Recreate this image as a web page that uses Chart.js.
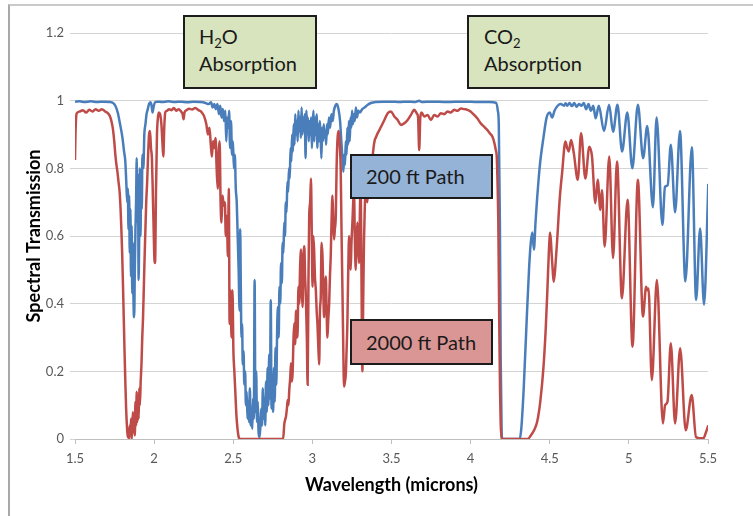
<!DOCTYPE html>
<html>
<head>
<meta charset="utf-8">
<script src="https://cdn.jsdelivr.net/npm/chart.js@4"></script>
<style>
  html, body { margin: 0; padding: 0; background: #fff; }
  #wrap { position: relative; width: 753px; height: 516px; overflow: hidden; }
  #frame { position: absolute; left: 8px; top: 4px; width: 800px; height: 600px;
           border-top: 2px solid #c9c9c9; border-left: 2px solid #a9a9a9; }
  canvas { position: absolute; left: 0; top: 0; }
  .note { position: absolute; box-sizing: border-box; border: 2px solid #1c1c1c;
          font-family: Lato, sans-serif; font-size: 20px; color: #1a1a1a; white-space: nowrap; }
  .note sub { font-size: 13px; vertical-align: -4px; line-height: 0; }
  #h2o { left: 183px; top: 15px; width: 134px; height: 74px; background: #d7e4bd;
         padding: 6px 0 0 14px; line-height: 27px; }
  #co2 { left: 467px; top: 15px; width: 143px; height: 74px; background: #d7e4bd;
         padding: 6px 0 0 15px; line-height: 27px; }
  #p200 { left: 350px; top: 154px; width: 143px; height: 45px; background: #95b3d7;
          padding-left: 14px; line-height: 41px; }
  #p2000 { left: 350px; top: 319px; width: 143px; height: 46px; background: #da9694;
           padding-left: 14px; line-height: 42px; }
</style>
</head>
<body>
<div id="wrap">
  <div id="frame"></div>
  <canvas id="myChart" width="753" height="516"></canvas>
  <div class="note" id="h2o">H<sub>2</sub>O<br>Absorption</div>
  <div class="note" id="co2">CO<sub>2</sub><br>Absorption</div>
  <div class="note" id="p200">200 ft Path</div>
  <div class="note" id="p2000">2000 ft Path</div>
</div>
<script>
// [wavelength (microns), transmission]
const path200ft = [
  [1.50,.997],[1.53,.998],[1.56,.996],[1.60,.998],[1.64,.996],[1.68,.997],[1.72,.996],[1.74,.993],
  [1.755,.985],[1.77,.965],[1.785,.93],[1.80,.89],[1.81,.85],[1.818,.82],[1.824,.76],[1.83,.70],
  [1.834,.74],[1.838,.62],[1.842,.72],[1.846,.55],[1.85,.68],[1.854,.48],[1.858,.63],[1.862,.43],
  [1.866,.58],[1.87,.40],[1.874,.36],[1.878,.50],[1.882,.62],[1.886,.70],[1.89,.83],[1.894,.64],
  [1.898,.78],[1.902,.47],[1.906,.62],[1.91,.80],[1.914,.60],[1.918,.78],[1.922,.68],[1.926,.84],
  [1.932,.80],[1.938,.90],[1.945,.93],[1.952,.96],[1.96,.975],[1.968,.99],[1.976,.995],[1.984,.985],
  [1.99,.965],[1.996,.98],[2.005,.995],[2.02,.997],[2.05,.996],[2.09,.998],[2.13,.996],[2.17,.997],
  [2.21,.995],[2.25,.997],[2.29,.996],[2.32,.994],[2.345,.99],[2.36,.995],[2.37,.98],[2.38,.99],
  [2.39,.975],[2.40,.99],[2.41,.96],[2.418,.985],[2.426,.95],[2.434,.975],[2.442,.94],[2.45,.97],
  [2.456,.88],[2.462,.95],[2.468,.92],[2.474,.97],[2.48,.86],[2.486,.94],[2.492,.84],[2.498,.88],
  [2.504,.80],[2.51,.84],[2.516,.74],[2.522,.70],[2.528,.60],[2.534,.50],[2.54,.38],[2.544,.62],
  [2.548,.44],[2.552,.30],[2.556,.34],[2.56,.22],[2.565,.26],[2.57,.16],[2.575,.20],[2.58,.10],
  [2.585,.14],[2.59,.06],[2.595,.11],[2.60,.05],[2.605,.15],[2.61,.04],[2.615,.09],[2.62,.03],
  [2.625,.12],[2.63,.06],[2.635,.47],[2.64,.08],[2.645,.20],[2.65,.05],[2.655,.11],[2.66,.02],
  [2.666,.005],[2.672,.04],[2.677,.09],[2.682,.04],[2.687,.15],[2.692,.06],[2.697,.12],[2.702,.04],
  [2.707,.17],[2.712,.08],[2.717,.21],[2.722,.10],[2.727,.25],[2.732,.12],[2.737,.41],[2.742,.09],
  [2.747,.19],[2.752,.08],[2.757,.21],[2.762,.11],[2.767,.27],[2.772,.16],[2.777,.31],[2.782,.39],
  [2.787,.30],[2.792,.45],[2.797,.40],[2.802,.52],[2.807,.46],[2.812,.58],[2.817,.55],[2.822,.64],
  [2.827,.60],[2.832,.70],[2.837,.67],[2.842,.76],[2.847,.73],[2.852,.80],[2.857,.77],[2.862,.86],
  [2.867,.82],[2.872,.90],[2.877,.85],[2.882,.93],[2.887,.87],[2.892,.96],[2.897,.90],[2.902,.94],
  [2.907,.88],[2.912,.97],[2.917,.91],[2.922,.95],[2.927,.89],[2.932,.98],[2.937,.90],[2.942,.95],
  [2.947,.91],[2.952,.96],[2.957,.83],[2.962,.97],[2.967,.92],[2.972,.95],[2.977,.88],[2.982,.94],
  [2.987,.90],[2.992,.95],[2.997,.86],[3.002,.93],[3.007,.97],[3.012,.88],[3.017,.95],[3.022,.90],
  [3.027,.96],[3.032,.86],[3.037,.93],[3.042,.88],[3.047,.94],[3.052,.90],[3.057,.83],[3.062,.92],
  [3.067,.88],[3.072,.93],[3.077,.89],[3.082,.91],[3.087,.87],[3.092,.93],[3.097,.90],[3.105,.95],
  [3.112,.92],[3.12,.96],[3.128,.94],[3.136,.97],[3.145,.985],[3.155,.99],[3.165,.975],[3.175,.94],
  [3.183,.88],[3.19,.83],[3.196,.79],[3.201,.84],[3.206,.81],[3.211,.88],[3.216,.84],[3.221,.92],
  [3.226,.87],[3.231,.94],[3.236,.88],[3.241,.95],[3.246,.92],[3.251,.97],[3.256,.93],[3.262,.96],
  [3.268,.94],[3.275,.98],[3.282,.95],[3.29,.97],[3.30,.965],[3.315,.975],[3.33,.98],[3.35,.988],
  [3.37,.993],[3.40,.996],[3.45,.997],[3.50,.997],[3.55,.996],[3.60,.997],[3.65,.996],[3.675,1.0],
  [3.69,.996],[3.75,.997],[3.85,.996],[3.95,.997],[4.05,.996],[4.12,.996],[4.16,.994],[4.172,.97],
  [4.178,.93],[4.185,.64],[4.19,.24],[4.196,.02],[4.20,0],[4.25,0],[4.31,0],[4.32,.03],
  [4.335,.145],[4.355,.36],[4.37,.51],[4.38,.58],[4.39,.61],[4.40,.56],[4.41,.64],[4.42,.71],
  [4.43,.77],[4.44,.82],[4.46,.89],[4.48,.95],[4.50,.965],[4.515,.95],[4.53,.97],[4.55,.985],
  [4.57,.99],[4.59,.985],[4.60,.992],[4.61,.985],[4.625,.993],[4.64,.984],[4.655,.993],[4.67,.982],
  [4.685,.99],[4.70,.985],[4.715,.993],[4.73,.975],[4.745,.99],[4.76,.97],[4.775,.985],[4.79,.948],
  [4.81,.985],[4.843,.91],[4.875,.988],[4.90,.908],[4.928,.988],[4.957,.85],[4.99,.965],[5.022,.80],
  [5.057,.988],[5.09,.83],[5.116,.925],[5.152,.685],[5.175,.95],[5.212,.633],[5.228,.745],[5.245,.75],
  [5.265,.87],[5.292,.67],[5.323,.91],[5.357,.466],[5.398,.862],[5.425,.411],[5.45,.622],[5.475,.397],
  [5.502,.754]
]

const path2000ft = [
  [1.50,.825],[1.503,.90],[1.507,.95],[1.512,.963],[1.53,.968],[1.55,.972],[1.57,.965],[1.59,.973],
  [1.61,.968],[1.63,.975],[1.65,.97],[1.67,.975],[1.69,.968],[1.71,.962],[1.72,.955],[1.73,.94],
  [1.74,.915],[1.748,.88],[1.755,.84],[1.762,.81],[1.768,.79],[1.775,.76],[1.782,.73],[1.788,.68],
  [1.793,.62],[1.798,.55],[1.803,.46],[1.808,.36],[1.813,.26],[1.818,.17],[1.823,.09],[1.828,.04],
  [1.833,.005],[1.838,.03],[1.842,0],[1.846,.04],[1.85,.01],[1.854,.06],[1.858,0],[1.862,.03],
  [1.866,.08],[1.87,.02],[1.874,.07],[1.878,.01],[1.882,.11],[1.886,.04],[1.89,.14],[1.894,.05],
  [1.898,.12],[1.902,.06],[1.906,.15],[1.91,.10],[1.915,.17],[1.92,.22],[1.925,.30],[1.93,.36],
  [1.935,.45],[1.94,.54],[1.945,.62],[1.95,.70],[1.956,.76],[1.962,.84],[1.968,.90],[1.974,.91],
  [1.98,.86],[1.986,.83],[1.992,.72],[1.997,.62],[2.002,.53],[2.006,.52],[2.012,.74],[2.018,.90],
  [2.024,.95],[2.03,.965],[2.038,.96],[2.046,.93],[2.052,.88],[2.058,.835],[2.064,.92],[2.07,.965],
  [2.08,.97],[2.095,.975],[2.11,.972],[2.125,.978],[2.14,.97],[2.155,.975],[2.17,.968],[2.18,.96],
  [2.186,.945],[2.192,.965],[2.205,.972],[2.22,.976],[2.24,.974],[2.26,.978],[2.28,.972],[2.30,.966],
  [2.315,.955],[2.33,.93],[2.34,.90],[2.35,.92],[2.358,.87],[2.365,.835],[2.372,.88],[2.38,.86],
  [2.388,.89],[2.395,.80],[2.402,.74],[2.408,.85],[2.414,.88],[2.42,.70],[2.426,.64],[2.432,.72],
  [2.44,.69],[2.447,.70],[2.453,.60],[2.46,.66],[2.466,.54],[2.472,.74],[2.477,.34],[2.483,.44],
  [2.489,.30],[2.495,.44],[2.501,.26],[2.507,.20],[2.513,.14],[2.52,.07],[2.527,.03],[2.535,.005],
  [2.545,0],[2.60,0],[2.70,0],[2.80,0],[2.815,0],[2.823,.046],[2.833,.066],[2.839,.09],
  [2.844,.115],[2.849,.10],[2.854,.145],[2.86,.18],[2.865,.224],[2.87,.17],[2.875,.194],[2.881,.30],
  [2.886,.342],[2.891,.28],[2.897,.38],[2.902,.30],[2.907,.32],[2.912,.45],[2.917,.40],[2.922,.50],
  [2.928,.56],[2.933,.44],[2.938,.39],[2.943,.52],[2.949,.57],[2.954,.48],[2.959,.42],[2.965,.30],
  [2.970,.16],[2.975,.45],[2.980,.66],[2.986,.70],[2.991,.77],[2.996,.62],[3.001,.45],[3.006,.60],
  [3.011,.56],[3.016,.48],[3.022,.44],[3.027,.38],[3.032,.34],[3.037,.28],[3.043,.22],[3.048,.38],
  [3.053,.42],[3.058,.58],[3.064,.54],[3.069,.44],[3.074,.36],[3.079,.45],[3.085,.48],[3.09,.38],
  [3.095,.30],[3.10,.35],[3.106,.40],[3.111,.48],[3.116,.54],[3.121,.64],[3.127,.72],[3.132,.65],
  [3.137,.59],[3.142,.62],[3.148,.66],[3.153,.80],[3.158,.88],[3.164,.91],[3.169,.90],[3.174,.86],
  [3.179,.80],[3.184,.62],[3.19,.44],[3.195,.28],[3.20,.155],[3.206,.17],[3.211,.19],[3.216,.26],
  [3.221,.34],[3.226,.48],[3.232,.60],[3.237,.55],[3.242,.50],[3.247,.58],[3.253,.64],[3.258,.70],
  [3.263,.74],[3.268,.60],[3.274,.50],[3.279,.58],[3.284,.64],[3.29,.58],[3.295,.52],[3.30,.66],
  [3.305,.78],[3.31,.50],[3.316,.20],[3.321,.40],[3.326,.58],[3.331,.68],[3.337,.74],[3.342,.72],
  [3.347,.70],[3.352,.74],[3.358,.76],[3.363,.79],[3.368,.80],[3.374,.82],[3.379,.83],[3.384,.85],
  [3.389,.87],[3.395,.885],[3.40,.89],[3.413,.904],[3.434,.923],[3.455,.943],[3.476,.963],[3.497,.968],
  [3.518,.953],[3.539,.943],[3.56,.928],[3.581,.933],[3.602,.943],[3.623,.958],[3.644,.973],[3.66,.962],
  [3.668,.95],[3.675,.854],[3.682,.95],[3.69,.965],[3.707,.953],[3.728,.958],[3.749,.943],[3.77,.958],
  [3.791,.953],[3.812,.963],[3.833,.96],[3.854,.968],[3.875,.965],[3.896,.973],[3.917,.97],[3.938,.977],
  [3.959,.975],[3.98,.973],[4.00,.968],[4.022,.958],[4.043,.947],[4.064,.933],[4.085,.923],[4.106,.913],
  [4.122,.903],[4.138,.893],[4.15,.875],[4.159,.854],[4.165,.835],[4.17,.76],[4.175,.64],[4.181,.34],
  [4.186,.14],[4.19,.046],[4.196,0],[4.25,0],[4.30,0],[4.36,0],[4.38,.01],[4.40,.025],
  [4.42,.05],[4.44,.11],[4.46,.21],[4.475,.33],[4.485,.44],[4.495,.56],[4.503,.61],[4.513,.54],
  [4.526,.465],[4.537,.52],[4.547,.589],[4.563,.71],[4.578,.786],[4.599,.879],[4.61,.86],[4.62,.85],
  [4.635,.884],[4.652,.845],[4.677,.766],[4.698,.904],[4.725,.77],[4.75,.864],[4.767,.835],[4.788,.697],
  [4.803,.766],[4.82,.677],[4.83,.736],[4.847,.569],[4.876,.835],[4.90,.535],[4.925,.82],[4.956,.416],
  [4.992,.707],[5.023,.273],[5.057,.766],[5.089,.362],[5.109,.45],[5.117,.44],[5.124,.445],[5.145,.174],
  [5.177,.47],[5.215,.046],[5.229,.10],[5.244,.11],[5.265,.283],[5.292,.046],[5.324,.268],[5.359,.026],
  [5.397,.13],[5.424,.006],[5.45,.002],[5.471,.002],[5.485,.017],[5.502,.04]
]

const seriesColors = { path200ft: '#4a7ebb', path2000ft: '#be4b48' }
const axisFont = 'Lato, sans-serif'

function toPoints(pairs) {
  return pairs.map(([x, y]) => ({ x: x, y: y }))
}

// plain labels: 1 instead of 1.0, 2 instead of 2.0
function shortLabel(value) {
  return String(+value.toFixed(1))
}

const ctx = document.getElementById('myChart').getContext('2d')
const myChart = new Chart(ctx, {
  type: 'line',
  data: {
    datasets: [
      {
        label: '2000 ft Path',
        data: toPoints(path2000ft),
        borderColor: seriesColors.path2000ft,
        borderWidth: 2.5,
        pointRadius: 0,
        cubicInterpolationMode: 'monotone',
        fill: false
      },
      {
        label: '200 ft Path',
        data: toPoints(path200ft),
        borderColor: seriesColors.path200ft,
        borderWidth: 2.5,
        pointRadius: 0,
        cubicInterpolationMode: 'monotone',
        fill: false
      }
    ]
  },
  options: {
    responsive: false,
    animation: false,
    devicePixelRatio: 1,
    layout: { padding: { left: 23, top: 33, right: 45, bottom: 0 } },
    plugins: {
      legend: { display: false },
      tooltip: { enabled: false }
    },
    scales: {
      x: {
        type: 'linear',
        min: 1.5,
        max: 5.5,
        afterFit: (scale) => { scale.height = 77 },
        ticks: {
          stepSize: 0.5,
          padding: 7,
          color: '#595959',
          font: { family: axisFont, size: 13 },
          callback: shortLabel
        },
        grid: { drawOnChartArea: false, drawTicks: true, tickLength: 5, color: '#bfbfbf' },
        border: { color: '#bfbfbf', width: 1 },
        title: {
          display: true,
          text: 'Wavelength (microns)',
          color: '#000',
          font: { family: axisFont, size: 18, weight: 'bold' },
          padding: { top: 0, bottom: 20 }
        }
      },
      y: {
        type: 'linear',
        min: 0,
        max: 1.2,
        afterFit: (scale) => { scale.width = 52 },
        ticks: {
          stepSize: 0.2,
          padding: 6,
          color: '#595959',
          font: { family: axisFont, size: 13 },
          callback: shortLabel
        },
        grid: { color: '#d4d4d4', tickLength: 5 },
        border: { display: false },
        title: {
          display: true,
          text: 'Spectral Transmission',
          color: '#000',
          font: { family: axisFont, size: 18, weight: 'bold' },
          padding: { top: 0, bottom: 0 }
        }
      }
    }
  }
})
</script>
</body>
</html>
